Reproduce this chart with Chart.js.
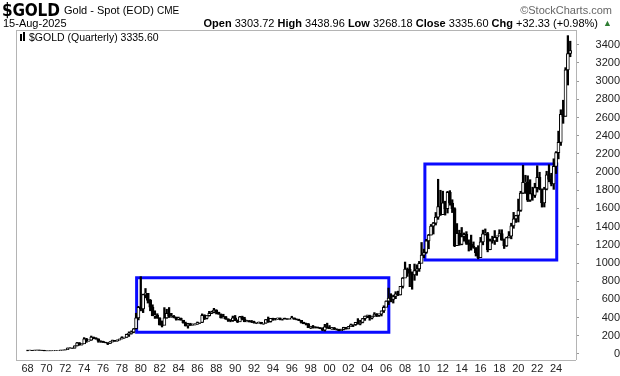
<!DOCTYPE html>
<html><head><meta charset="utf-8">
<script src="https://cdn.jsdelivr.net/npm/chart.js@4.4.1/dist/chart.umd.min.js"></script>
<style>
html,body{margin:0;padding:0;background:#fff;width:620px;height:376px;overflow:hidden;font-family:"Liberation Sans",Arial,sans-serif;color:#000}
#c{position:absolute;left:0;top:0}
.t{position:absolute;white-space:nowrap}
</style></head><body>
<canvas id="c" width="620" height="376" style="width:620px;height:376px"></canvas>
<div class="t" style="left:2px;top:0px;font-family:'DejaVu Sans Condensed','Liberation Sans',Arial;font-stretch:condensed;font-weight:bold;font-size:17px;letter-spacing:-0.2px">$GOLD</div>
<div class="t" style="left:64px;top:4px;font-size:11px">Gold - Spot (EOD) <span style="font-size:10px">CME</span></div>
<div class="t" style="right:8px;top:4px;font-size:11px;color:#666">©StockCharts.com</div>
<div class="t" style="left:3px;top:17px;font-size:11px">15-Aug-2025</div>
<div class="t" style="right:22px;top:17px;font-size:11px"><b>Open</b> 3303.72 <b>High</b> 3438.96 <b>Low</b> 3268.18 <b>Close</b> 3335.60 <b>Chg</b> +32.33 (+0.98%)</div>
<div class="t" style="left:603px;top:18px;font-size:9px;color:#2e7d32">▲</div>
<div class="t" style="left:20px;top:31px;font-size:10.5px"><span style="display:inline-block;width:2px;height:7px;background:#000;margin-right:1px"></span><span style="display:inline-block;width:2px;height:9px;background:#000;margin-right:4px"></span>$GOLD (Quarterly) 3335.60</div>
<script>
// Quarterly closes, highs and lows, 1968 Q1 .. 2025 Q3
const startYear = 1968;
const closes = [
 39.0,41.0,39.5,41.9, 43.3,41.2,40.8,35.2, 35.2,35.5,36.2,37.4, 38.9,40.1,42.6,43.6,
 48.3,65.1,65.5,64.9, 90,123,103,112, 168,143,151,186.5, 177,166,142,140,
 129,123.5,116,134.5, 148.9,143,154,165, 181.6,183,217,226, 240,277.5,397,512,
 494.5,653.5,666.75,589.75, 513.75,422,428.75,397.5, 320,314,397,448, 414.75,416,405,382.4,
 394.25,373,341,309, 332,317,326,326.8, 345.5,345.8,426,390.9, 421.1,447.3,459.5,484.1,
 457,436.6,397.7,410.25, 385.5,373,366.5,398.6, 368.5,352.2,408.4,386.2, 355.65,366,354.9,353.15,
 341.7,343.4,349,333, 337.8,378.5,355.5,391.75, 389.2,387.5,394.9,383.25, 392.75,387.1,384,387,
 396.35,382,379,369.25, 348.25,334.6,332.1,290.2, 301,296.3,293.85,287.8, 279.45,261,299,290.25,
 276.75,288.15,273.65,272.65, 257.7,270.6,293.1,276.5, 301.4,318.5,323.7,347.2, 334.85,346,388,417.25,
 423.7,395.8,415.65,438, 427.5,437.1,473.25,513, 582,613.5,599.25,632, 661.75,650.5,743,833.75,
 933.5,930.25,884.5,869.75, 916.5,934.5,995.75,1087.5, 1115.5,1244,1307,1405.5, 1439,1505.5,1620,1531,
 1662.5,1598.5,1776,1657.5, 1598.25,1192,1326.5,1204.5, 1291.75,1315,1216.5,1206, 1187,1171,1114,1060,
 1232.7,1320.75,1322.5,1145.9, 1244.85,1242.25,1283.1,1296.5, 1324.65,1250.45,1187.25,1279, 1295.4,1409,1485.3,1523,
 1577.2,1768,1886.9,1891.1, 1691,1763,1742.8,1829.2, 1942.15,1817,1660.6,1812.35, 1969,1919.35,1870.05,2062.4,
 2214.35,2326.75,2634.4,2610.9, 3123.3,3303.72,3335.6
];
const highs = [
 42,42.6,41,42.5, 43.8,43.8,42,41, 35.8,36,36.6,37.6, 39.2,40.5,42.9,43.9,
 49,67,70,66, 90,127,126,112, 180,172,155,197.5, 187,178,167,146,
 141,130,124.5,136, 153.5,149.5,155,165.5, 190,185.5,219,243.7, 254,281,448,524,
 850,658,720,642, 600,541,475,443, 399,364,510,492, 511,447,424,406,
 405.9,395,365,351, 338,338,331,333, 352,347,441,432, 422,469,471,502,
 487,460,441,437, 412,387,378.5,417, 423.8,375,414,416, 403.7,371,369,369,
 361,344,352,349, 338,379.5,406.7,392, 394,390,396,396.5, 393,395,387.5,388,
 415,396,387,383, 368,350,340,336, 305,314,301,297, 291,289,326,339,
 313,292,292,277, 272,273,294,286, 304,330,327,348.5, 389,371,391,417.25,
 428,427,416,455, 445,442,473.25,530, 584,725,663,648, 685,691,743,841,
 1011,946,986,903, 989,981,1018,1226, 1153,1261,1315,1424, 1447,1556,1921,1800,
 1790,1680,1788,1796, 1696,1608,1434,1361, 1391,1331,1345,1255, 1307,1232,1168,1191,
 1282,1362,1375,1337, 1264,1295,1357,1298, 1366,1366,1265,1284, 1346,1438,1557,1525,
 1703,1789,2075,1965, 1959,1916,1834,1877, 2070,1998,1814,1833, 2009,2081,1987,2146,
 2225,2450,2685,2790, 3148,3500,3438.96
];
const lows = [
 35.2,38.5,38.5,39, 41.5,40.5,39.5,35, 34.8,35,35.3,36, 37.5,38.3,40,42,
 43.5,48,63,61, 64,88,95,98, 116,128,140,150, 167,162,129,128,
 126,122.5,103,116, 131,138,140,153, 165,172,183,193, 218,233,275,375,
 474,455,617,560, 475,420,391,391, 318,297,336,392, 401,403,397,372,
 374,372,339,307, 284,313,317,319, 326,335,345,378, 385,416,443,452,
 440,436,395,395, 380,358,354,358, 366,345,355,375, 354,354,351,345,
 339,333,339,331, 326,338,347,350, 370,373,380,375, 372,383,381,383,
 387,381,375,367, 340,332,319,289, 279,284,285,285, 278,256,252,281,
 280,271,268,263, 255,257,265,273, 276,301,301,314, 327,320,342,369,
 399,371,385,414, 411,413,418,456, 524,543,573,560, 608,642,648,725,
 846,853,740,712, 810,865,908,1003, 1058,1106,1157,1309, 1319,1418,1480,1523,
 1564,1527,1550,1636, 1555,1180,1208,1195, 1200,1240,1204,1132, 1142,1162,1077,1046,
 1061,1200,1307,1123, 1146,1218,1204,1236, 1302,1250,1160,1182, 1276,1266,1382,1446,
 1451,1568,1764,1765, 1676,1677,1690,1721, 1780,1805,1615,1616, 1804,1893,1848,1810,
 1984,2145,2293,2536, 2614,2957,3268.18
];
const xTickYears = [1968,1970,1972,1974,1976,1978,1980,1982,1984,1986,1988,1990,1992,1994,1996,1998,2000,2002,2004,2006,2008,2010,2012,2014,2016,2018,2020,2022,2024];
const yTicks = [0,200,400,600,800,1000,1200,1400,1600,1800,2000,2200,2400,2600,2800,3000,3200,3400];
// Highlight boxes: [startYear, endYear, low, high]
const box1 = [1979.56, 2006.28, 239, 839];
const box2 = [2010.1, 2024.07, 1033, 2089];

const times = closes.map((c,i)=>startYear + i*0.25);
const opens = closes.map((c,i)=> i===0 ? c : closes[i-1]);
const bodyData = closes.map((c,i)=>({x:times[i], y:[opens[i], c]}));
const wickData = closes.map((c,i)=>({x:times[i], y:[lows[i], highs[i]]}));
const bodyFill = closes.map((c,i)=> c>=opens[i] ? '#ffffff' : '#000000');
function boxPts(b){return [{x:b[0],y:b[2]},{x:b[1],y:b[2]},{x:b[1],y:b[3]},{x:b[0],y:b[3]},{x:b[0],y:b[2]},{x:b[1],y:b[2]}];}

const frame = {id:'frame', afterDraw(ch){const a=ch.chartArea, g=ch.ctx; g.save(); g.strokeStyle='#b4b4b4'; g.lineWidth=1;
  g.beginPath(); g.moveTo(Math.round(a.left)+0.5,a.top); g.lineTo(Math.round(a.left)+0.5,a.bottom);
  g.moveTo(a.left,Math.round(a.top)+0.5); g.lineTo(a.right,Math.round(a.top)+0.5);
  g.moveTo(a.left,Math.round(a.bottom)+0.5); g.lineTo(a.right,Math.round(a.bottom)+0.5);
  g.moveTo(Math.round(a.right)+0.5,a.top); g.lineTo(Math.round(a.right)+0.5,a.bottom); g.stroke(); g.restore();}};

new Chart(document.getElementById('c'), {
  type:'bar',
  data:{datasets:[
    {data:bodyData, backgroundColor:bodyFill, borderColor:'#000', borderWidth:1, borderSkipped:false, barThickness:3, grouped:false},
    {data:wickData, backgroundColor:'#000', borderWidth:0, barThickness:1.6, grouped:false},
    {type:'line', data:boxPts(box1), borderColor:'#0a0aff', borderWidth:3, pointRadius:0, fill:false, tension:0, borderJoinStyle:'miter'},
    {type:'line', data:boxPts(box2), borderColor:'#0a0aff', borderWidth:3, pointRadius:0, fill:false, tension:0, borderJoinStyle:'miter'}
  ]},
  options:{
    responsive:false, animation:false, devicePixelRatio:1,
    layout:{padding:{left:16, top:30, right:0, bottom:0}},
    plugins:{legend:{display:false}, tooltip:{enabled:false}, title:{display:false}},
    scales:{
      x:{type:'linear', min:1966.78, max:2026.11, offset:false,
        grid:{display:false, drawTicks:false}, border:{display:false},
        afterBuildTicks:s=>{s.ticks = xTickYears.map(v=>({value:v}));},
        afterFit:s=>{s.height=16;},
        ticks:{padding:2, maxRotation:0, autoSkip:false, color:'#222', font:{family:'Liberation Sans', size:11},
          callback:v=>String(v%100).padStart(2,'0')}},
      y:{type:'linear', position:'right', min:-66, max:3562,
        grid:{drawOnChartArea:false, drawTicks:true, tickLength:3, color:'#999'}, border:{display:false},
        afterBuildTicks:s=>{s.ticks = yTicks.map(v=>({value:v}));},
        afterFit:s=>{s.width=44;},
        ticks:{padding:0, crossAlign:'far', color:'#222', font:{family:'Liberation Sans', size:11},
          callback:v=>String(v)}}
    }
  },
  plugins:[frame]
});
</script>
</body></html>
